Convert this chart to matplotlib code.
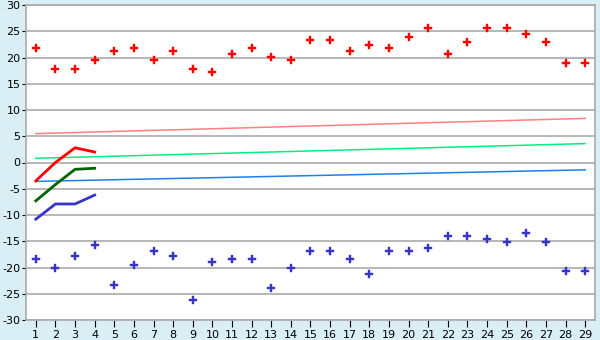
import numpy as np
import matplotlib
matplotlib.use("Agg")
import matplotlib.pyplot as plt

days = list(range(1, 30))

high_pts = [21.8, 17.8, 17.8, 19.5, 21.2, 21.8, 19.5, 21.2, 17.8, 17.2,
            20.7, 21.8, 20.1, 19.5, 23.3, 23.3, 21.2, 22.4, 21.8, 23.9,
            25.6, 20.6, 22.9, 25.6, 25.6, 24.5, 22.9, 18.9, 18.9]
low_pts = [-18.4, -20.1, -17.8, -15.7, -23.3, -19.5, -16.8, -17.8, -26.2, -18.9,
           -18.4, -18.4, -23.9, -20.1, -16.8, -16.8, -18.4, -21.2, -16.8, -16.8,
           -16.2, -14.0, -14.0, -14.5, -15.1, -13.4, -15.1, -20.6, -20.6]

obs_days = [1, 2, 3, 4]
obs_high = [-3.5, 0.0, 2.8, 2.0]
obs_mean = [-7.3, -4.2, -1.3, -1.1]
obs_low = [-10.8, -7.9, -7.9, -6.2]

norm_days = [1, 29]
norm_high = [5.5, 8.4]
norm_mean = [0.8, 3.6]
norm_low = [-3.6, -1.4]

plt.rcParams['axes.unicode_minus'] = False

bg = "#DAEEF5"
fig = plt.figure(figsize=(6, 3.4), dpi=100, facecolor=bg)
ax = fig.add_axes([26 / 600, 20 / 340, 569 / 600, 315 / 340])
ax.set_facecolor("white")

ax.plot(norm_days, norm_high, color="#FF8080", lw=1.1)
ax.plot(norm_days, norm_mean, color="#00F080", lw=1.1)
ax.plot(norm_days, norm_low, color="#1E80E8", lw=1.1)

ax.plot(obs_days, obs_high, color="#FF0000", lw=2)
ax.plot(obs_days, obs_mean, color="#006400", lw=2)
ax.plot(obs_days, obs_low, color="#3535C8", lw=2)

ax.scatter(days, high_pts, marker="P", s=28, color="#FF0000", linewidths=0.3,
           edgecolors="#FF0000", zorder=3)
ax.scatter(days, low_pts, marker="P", s=28, color="#3535C8", linewidths=0.3,
           edgecolors="#3535C8", zorder=3)

ax.set_xlim(0.5, 29.5)
ax.set_ylim(-30, 30)
ax.set_xticks(days)
ax.set_yticks(np.arange(-30, 31, 5))
ax.yaxis.grid(True, color="#AAAAAA", lw=1.2)
ax.set_axisbelow(True)
for s in ax.spines.values():
    s.set_color("#AAAAAA")
    s.set_linewidth(1.2)
ax.tick_params(axis="y", labelsize=8, length=3, pad=1)
ax.tick_params(axis="x", labelsize=8, length=5, pad=2)

fig.savefig("out.png", dpi=100, facecolor=bg)
